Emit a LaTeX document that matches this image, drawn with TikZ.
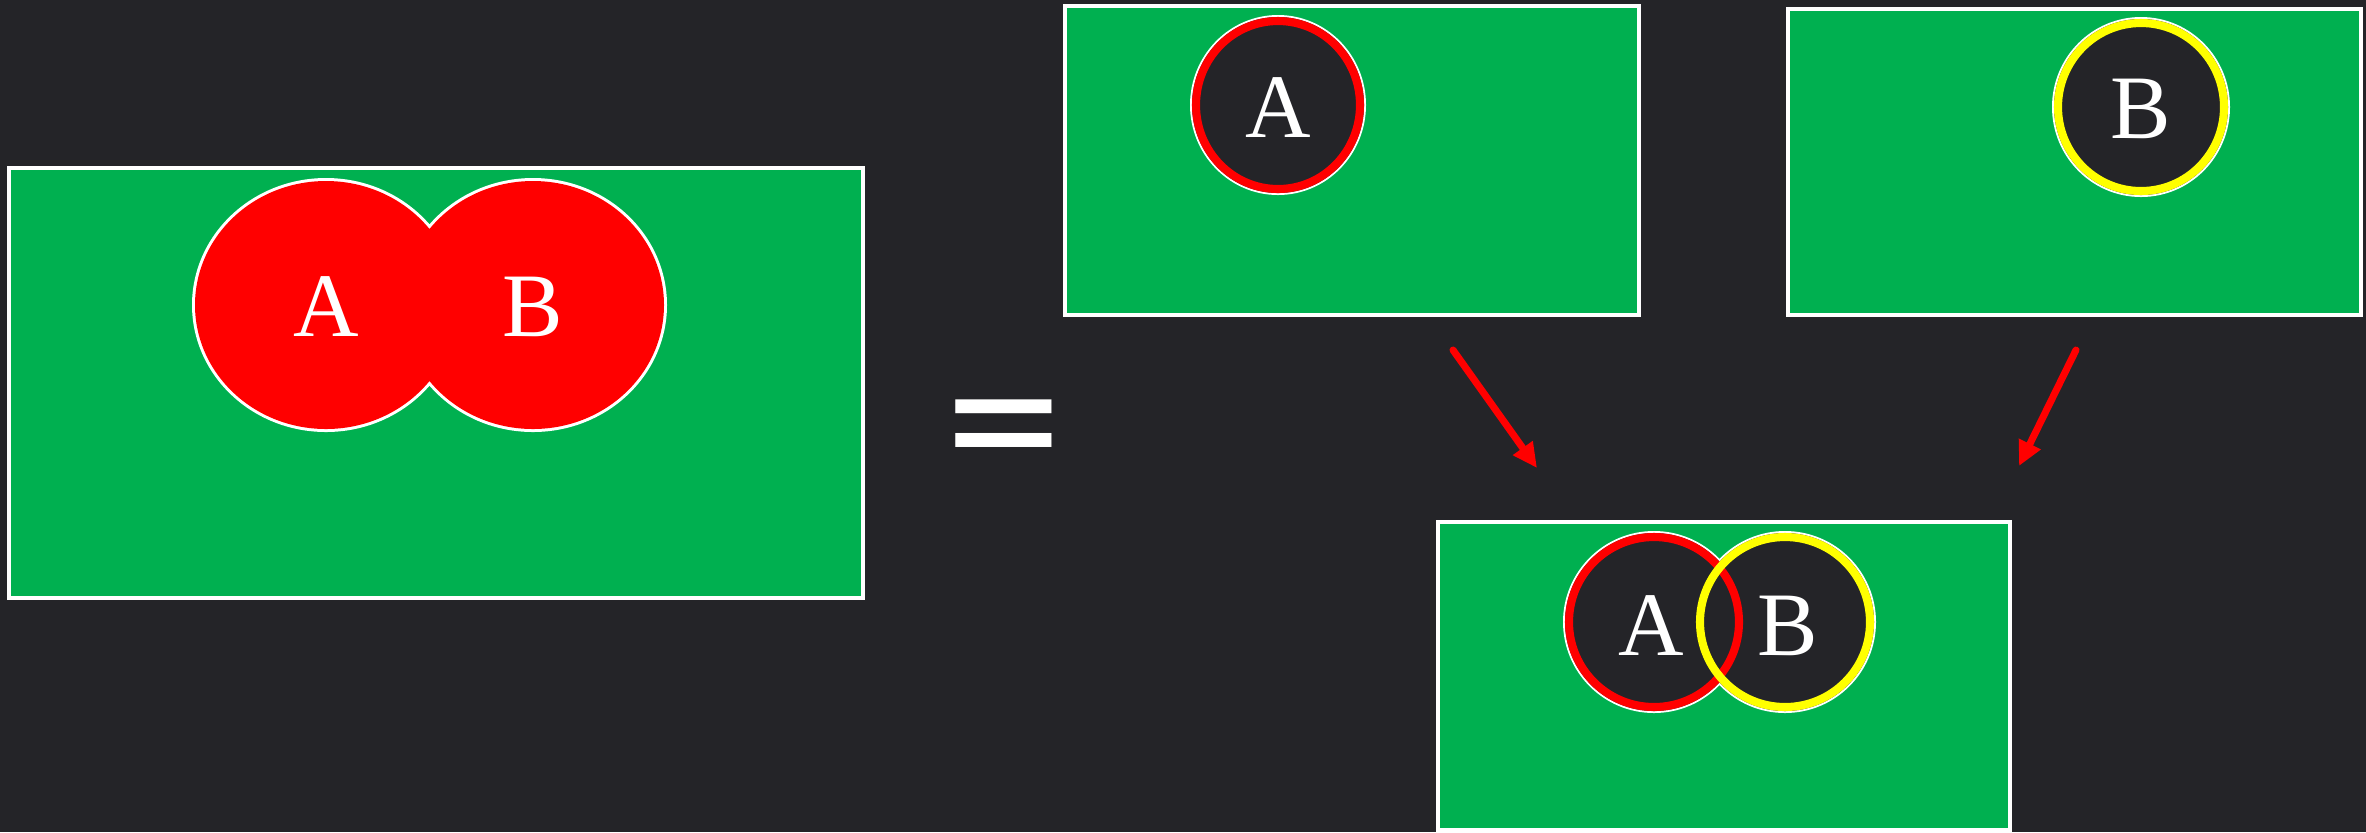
\documentclass[tikz,border=0pt]{standalone}
\usepackage{fontspec}
\setmainfont{Liberation Serif}
\usetikzlibrary{arrows.meta,positioning,fit}
\newfontfamily\eqfont{DejaVu Sans}
\definecolor{slate}{RGB}{36,36,40}
\definecolor{lawn}{RGB}{0,176,80}
\definecolor{setred}{RGB}{255,0,0}
\definecolor{setyellow}{RGB}{255,255,0}

\begin{document}
\begin{tikzpicture}[x=0.01cm, y=-0.01cm,
    panel/.style={draw=white, line width=0.9pt, fill=lawn, inner sep=0pt},
    setlabel/.style={text=white, font=\fontsize{25.8}{30}\selectfont, inner sep=0pt},
    ring/.style={line width=2.3pt},
    link/.style={-{Triangle[length=7pt,width=6.5pt]}, setred, line width=2pt, line cap=round},
]
% background
\fill[slate] (0,0) rectangle (2366,832);
\useasboundingbox (0,0) rectangle (2366,832);

% A u B
\node[panel, fit={(9,168) (863,598)}] (whole) {};
\fill[white] (326,305) ellipse [x radius=134, y radius=127]
             (533,305) ellipse [x radius=134, y radius=127];
\fill[setred] (326,305) ellipse [x radius=131, y radius=124]
              (533,305) ellipse [x radius=131, y radius=124];
\node[setlabel] (wA) at (326,307) {A};
\node[setlabel] (wB) at (533,307) {B};

% equals
\node[text=white, font=\eqfont\fontsize{48}{50}\selectfont, inner sep=0pt, xscale=0.91] (eq) at (1004,438) {=};

% A alone
\node[panel, fit={(1065,6) (1639,315)}] (onlyA) {};
\fill[white] (1278,105) ellipse [x radius=88, y radius=90];
\fill[slate] (1278,105) ellipse [x radius=86, y radius=88];
\draw[setred, ring] (1278,105) ellipse [x radius=82, y radius=84];
\node[setlabel] (aA) at (1278,108) {A};

% B alone
\node[panel, fit={(1788,9) (2361,315)}] (onlyB) {};
\fill[white] (2141,107) ellipse [x radius=89, y radius=90];
\fill[slate] (2141,107) ellipse [x radius=87, y radius=88];
\draw[setyellow, ring] (2141,107) ellipse [x radius=83, y radius=84];
\node[setlabel] (bB) at (2141,109) {B};

% A and B together
\node[panel, fit={(1438,522) (2010,830)}] (both) {};
\fill[white] (1654,622) ellipse [x radius=91, y radius=91]
             (1785,622) ellipse [x radius=91, y radius=91];
\fill[slate] (1654,622) ellipse [x radius=89, y radius=89]
             (1785,622) ellipse [x radius=89, y radius=89];
\draw[setred, ring] (1654,622) ellipse [x radius=85, y radius=85];
\draw[setyellow, ring] (1785,622) ellipse [x radius=85, y radius=85];
\node[setlabel] (cA) at (1651,626) {A};
\node[setlabel] (cB) at (1788,626) {B};

% arrows
\coordinate (fromA) at (1453,350);
\coordinate (toA) at (1537,468);
\coordinate (fromB) at (2076,350);
\coordinate (toB) at (2019,466);
\draw[link] (fromA) -- (toA);
\draw[link] (fromB) -- (toB);
\end{tikzpicture}
\end{document}
